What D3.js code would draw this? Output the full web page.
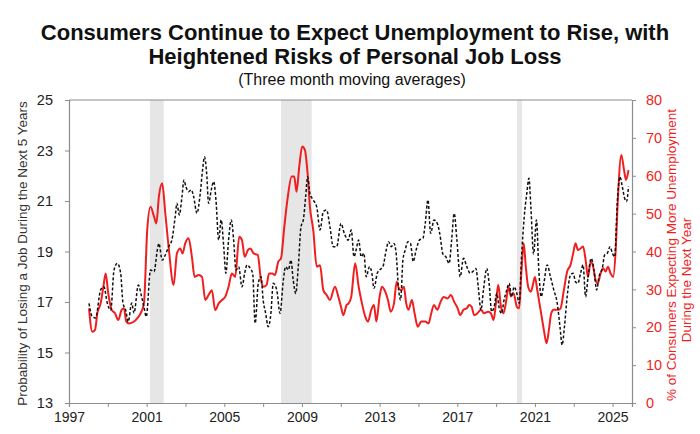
<!DOCTYPE html>
<html>
<head>
<meta charset="utf-8">
<script src="https://cdn.jsdelivr.net/npm/d3@7"></script>
<style>
    body { margin: 0; background: #fff; }
    svg { display: block; font-family: "Liberation Sans", Arial, sans-serif; }
</style>
</head>
<body>
<div id="chart"></div>
<script>
// Probability of losing a job during the next 5 years (left axis), [year, value]
const jobLossRisk = [
    [1998.03, 16.95], [1998.2, 16.42], [1998.37, 16.37], [1998.63, 17.48], [1998.8, 17.6],
    [1998.97, 16.96], [1999.15, 16.68], [1999.32, 18.27], [1999.49, 18.53], [1999.66, 18.15],
    [1999.78, 16.96], [1999.92, 16.68], [2000.05, 16.22], [2000.23, 16.96], [2000.35, 16.56],
    [2000.57, 17.67], [2000.74, 17.21], [2000.86, 16.81], [2000.98, 16.42], [2001.2, 18.27],
    [2001.38, 18.2], [2001.55, 19.06], [2001.63, 19.32], [2001.8, 18.66], [2001.96, 18.86],
    [2002.13, 19.19], [2002.3, 19.46], [2002.47, 20.38], [2002.56, 20.91], [2002.68, 20.45],
    [2002.82, 21.17], [2002.92, 21.83], [2003.02, 21.57], [2003.16, 21.37], [2003.3, 21.44],
    [2003.42, 21.17], [2003.59, 20.51], [2003.76, 21.3], [2003.88, 22.23], [2003.98, 22.75],
    [2004.09, 22.1], [2004.19, 20.91], [2004.33, 21.44], [2004.45, 21.77], [2004.57, 21.04],
    [2004.71, 19.46], [2004.84, 20.25], [2004.97, 19.19], [2005.08, 18.14], [2005.22, 19.46],
    [2005.36, 20.25], [2005.48, 19.46], [2005.6, 18.27], [2005.74, 18.4], [2005.91, 17.6],
    [2006.05, 18.14], [2006.17, 18.47], [2006.34, 18.33], [2006.46, 18.14], [2006.59, 16.16],
    [2006.75, 17.74], [2006.89, 18.0], [2007.0, 17.08], [2007.13, 16.55], [2007.26, 16.02],
    [2007.4, 16.55], [2007.52, 17.74], [2007.7, 17.48], [2007.87, 16.55], [2008.04, 17.87],
    [2008.16, 18.4], [2008.3, 18.27], [2008.43, 18.66], [2008.55, 17.87], [2008.68, 17.34],
    [2008.81, 18.4], [2008.95, 19.98], [2009.07, 20.25], [2009.19, 21.17], [2009.29, 21.96],
    [2009.41, 21.3], [2009.58, 21.04], [2009.76, 20.77], [2009.93, 19.85], [2010.1, 20.58],
    [2010.27, 20.64], [2010.44, 19.98], [2010.61, 19.19], [2010.79, 19.19], [2011.01, 20.11],
    [2011.18, 19.72], [2011.38, 19.45], [2011.54, 19.85], [2011.68, 18.79], [2011.79, 19.06],
    [2011.92, 19.46], [2012.05, 18.79], [2012.19, 18.93], [2012.31, 18.0], [2012.48, 18.4],
    [2012.6, 18.14], [2012.71, 17.54], [2012.88, 18.14], [2013.0, 18.27], [2013.17, 18.4],
    [2013.34, 19.06], [2013.46, 19.39], [2013.6, 19.19], [2013.74, 19.32], [2013.85, 18.93],
    [2013.98, 17.48], [2014.08, 17.08], [2014.2, 18.66], [2014.32, 19.06], [2014.46, 19.39],
    [2014.59, 19.32], [2014.73, 18.6], [2014.88, 19.06], [2015.06, 19.46], [2015.23, 19.52],
    [2015.35, 20.11], [2015.49, 21.04], [2015.63, 19.72], [2015.8, 20.25], [2015.97, 20.11],
    [2016.1, 19.7], [2016.26, 18.9], [2016.41, 18.79], [2016.58, 18.53], [2016.71, 19.46],
    [2016.84, 20.51], [2016.98, 19.46], [2017.15, 18.0], [2017.32, 18.73], [2017.49, 18.4],
    [2017.66, 18.14], [2017.79, 18.2], [2017.96, 18.33], [2018.08, 17.6], [2018.22, 16.68],
    [2018.35, 17.48], [2018.52, 18.33], [2018.64, 17.74], [2018.77, 16.62], [2018.9, 16.81],
    [2019.04, 17.34], [2019.16, 16.75], [2019.28, 16.55], [2019.41, 17.08], [2019.55, 17.48],
    [2019.67, 17.74], [2019.8, 17.21], [2019.93, 17.6], [2020.07, 17.34], [2020.19, 16.95],
    [2020.31, 18.79], [2020.45, 20.38], [2020.58, 21.3], [2020.69, 21.9], [2020.79, 20.77],
    [2020.93, 18.9], [2021.08, 20.25], [2021.2, 18.27], [2021.32, 17.21], [2021.46, 17.74],
    [2021.63, 18.47], [2021.8, 18.0], [2021.97, 17.48], [2022.15, 16.95], [2022.29, 16.02],
    [2022.4, 15.3], [2022.52, 16.02], [2022.66, 17.21], [2022.83, 18.07], [2022.97, 18.14],
    [2023.09, 17.8], [2023.21, 17.74], [2023.35, 18.14], [2023.48, 18.47], [2023.61, 17.21],
    [2023.74, 18.0], [2023.9, 18.73], [2024.04, 18.27], [2024.18, 17.48], [2024.3, 18.0],
    [2024.47, 18.33], [2024.59, 18.86], [2024.73, 18.93], [2024.87, 19.19], [2024.99, 18.93],
    [2025.11, 18.79], [2025.24, 20.91], [2025.38, 21.96], [2025.5, 21.57], [2025.62, 21.11],
    [2025.72, 20.98], [2025.82, 21.57]
];

// % of consumers expecting more unemployment during the next year (right axis), [year, value]
const expectMoreUnemployment = [
    [1998.03, 25.0], [1998.2, 18.8], [1998.34, 19.3], [1998.46, 23.7], [1998.63, 26.3],
    [1998.77, 30.7], [1998.89, 34.2], [1999.02, 29.0], [1999.2, 24.6], [1999.37, 23.7],
    [1999.54, 21.9], [1999.71, 24.6], [1999.83, 25.0], [1999.95, 21.5], [2000.09, 21.0],
    [2000.35, 21.5], [2000.52, 22.4], [2000.69, 23.7], [2000.86, 26.3], [2001.03, 45.7],
    [2001.2, 51.8], [2001.38, 49.2], [2001.5, 47.4], [2001.63, 54.5], [2001.8, 58.0],
    [2001.96, 50.1], [2002.13, 41.3], [2002.39, 31.2], [2002.56, 39.5], [2002.73, 40.8],
    [2002.85, 39.5], [2002.99, 42.2], [2003.16, 43.5], [2003.33, 38.6], [2003.47, 33.3],
    [2003.68, 33.8], [2003.85, 33.3], [2004.02, 27.2], [2004.19, 28.5], [2004.36, 29.8],
    [2004.53, 24.5], [2004.71, 26.3], [2004.88, 27.2], [2005.05, 28.1], [2005.22, 30.7],
    [2005.39, 34.2], [2005.56, 33.3], [2005.77, 43.9], [2005.91, 43.0], [2006.05, 38.6],
    [2006.22, 40.4], [2006.34, 40.8], [2006.51, 39.5], [2006.72, 39.1], [2006.89, 32.5],
    [2007.0, 30.7], [2007.18, 31.2], [2007.3, 34.2], [2007.47, 34.2], [2007.61, 33.8],
    [2007.78, 37.3], [2007.92, 38.2], [2008.09, 46.5], [2008.26, 54.0], [2008.47, 59.8],
    [2008.6, 59.8], [2008.72, 55.8], [2008.86, 62.4], [2009.01, 67.7], [2009.15, 66.8],
    [2009.29, 60.6], [2009.41, 51.8], [2009.58, 45.7], [2009.76, 36.0], [2009.93, 36.4],
    [2010.1, 29.8], [2010.27, 28.5], [2010.44, 27.2], [2010.7, 30.7], [2010.87, 28.1],
    [2011.01, 25.4], [2011.13, 23.2], [2011.3, 25.9], [2011.4, 26.3], [2011.54, 28.1],
    [2011.74, 36.9], [2011.92, 30.7], [2012.09, 26.3], [2012.26, 22.8], [2012.4, 21.5],
    [2012.57, 24.6], [2012.71, 25.9], [2012.83, 21.5], [2013.0, 28.1], [2013.12, 30.7],
    [2013.29, 29.4], [2013.43, 27.2], [2013.57, 24.1], [2013.74, 26.3], [2013.88, 32.0],
    [2013.99, 30.3], [2014.11, 29.8], [2014.25, 30.7], [2014.37, 26.3], [2014.49, 24.6],
    [2014.66, 27.2], [2014.8, 23.7], [2014.97, 20.1], [2015.14, 21.5], [2015.35, 21.5],
    [2015.52, 21.0], [2015.66, 23.7], [2015.8, 25.9], [2015.97, 24.6], [2016.14, 26.7],
    [2016.3, 28.0], [2016.5, 27.6], [2016.67, 28.5], [2016.84, 26.7], [2017.02, 25.0],
    [2017.15, 23.2], [2017.32, 24.6], [2017.49, 25.0], [2017.61, 25.9], [2017.74, 25.4],
    [2017.87, 23.2], [2018.04, 23.7], [2018.22, 24.6], [2018.38, 23.7], [2018.59, 24.1],
    [2018.73, 23.7], [2018.87, 21.9], [2018.99, 26.3], [2019.11, 31.2], [2019.25, 25.4],
    [2019.38, 23.7], [2019.5, 26.3], [2019.64, 30.7], [2019.76, 28.1], [2019.9, 29.0],
    [2020.07, 25.4], [2020.19, 25.0], [2020.31, 35.1], [2020.42, 42.2], [2020.53, 36.0],
    [2020.65, 30.7], [2020.79, 29.4], [2020.93, 32.0], [2021.0, 33.3], [2021.12, 29.8],
    [2021.29, 24.6], [2021.46, 19.3], [2021.6, 15.8], [2021.72, 19.3], [2021.84, 23.7],
    [2021.97, 24.6], [2022.18, 24.6], [2022.32, 25.0], [2022.49, 29.8], [2022.66, 34.7],
    [2022.83, 36.4], [2022.97, 39.5], [2023.09, 42.2], [2023.21, 40.4], [2023.35, 40.8],
    [2023.48, 41.3], [2023.61, 37.8], [2023.73, 33.3], [2023.87, 37.3], [2024.0, 36.0],
    [2024.12, 32.5], [2024.24, 31.6], [2024.38, 34.2], [2024.51, 35.6], [2024.64, 34.7],
    [2024.76, 36.0], [2024.9, 34.2], [2025.03, 33.3], [2025.16, 40.4], [2025.27, 53.6],
    [2025.45, 65.5], [2025.59, 61.5], [2025.69, 58.9], [2025.82, 61.5]
];

// Recessions, [start, end] in decimal years
const recessions = [[2001.17, 2001.88], [2007.92, 2009.5], [2020.08, 2020.33]];

const yearTicks = d3.range(1997, 2026, 2);
const yearLabels = d3.range(1997, 2026, 4);
const leftTicks = d3.range(13, 26, 2);
const rightTicks = d3.range(0, 81, 10);

const titleLines = [
    "Consumers Continue to Expect Unemployment to Rise, with",
    "Heightened Risks of Personal Job Loss"
];
const subtitle = "(Three month moving averages)";
const leftTitle = "Probability of Losing a Job During the Next 5 Years";
const rightTitle = ["% of Consumers Expecting More Unemployment", "During the Next Year"];

document.addEventListener("DOMContentLoaded", renderChart);

function renderChart() {
    const width = 700;
    const height = 434;
    const margin = { top: 100, right: 68, bottom: 31, left: 69 };
    const red = "#f01e1e";

    const svg = d3.select("#chart").append("svg")
        .attr("width", width)
        .attr("height", height);

    svg.append("rect").attr("width", width).attr("height", height).attr("fill", "#fff");

    const x = d3.scaleLinear()
        .domain([1997, 2026])
        .range([margin.left, width - margin.right]);

    const yLeft = d3.scaleLinear()
        .domain([13, 25])
        .range([height - margin.bottom, margin.top]);

    const yRight = d3.scaleLinear()
        .domain([0, 80])
        .range([height - margin.bottom, margin.top]);

    // titles
    svg.append("g")
        .selectAll("text")
        .data(titleLines)
        .join("text")
        .attr("x", width / 2 + 5)
        .attr("y", (d, i) => 40 + i * 24)
        .attr("text-anchor", "middle")
        .attr("font-size", 22)
        .attr("font-weight", 700)
        .attr("fill", "#111")
        .text((d) => d);

    svg.append("text")
        .attr("x", width / 2 + 2)
        .attr("y", 85)
        .attr("text-anchor", "middle")
        .attr("font-size", 16)
        .attr("fill", "#111")
        .text(subtitle);

    // recession bars
    svg.append("g")
        .selectAll("rect")
        .data(recessions)
        .join("rect")
        .attr("x", (d) => x(d[0]))
        .attr("y", margin.top)
        .attr("width", (d) => x(d[1]) - x(d[0]))
        .attr("height", yLeft(13) - margin.top)
        .attr("fill", "#e6e6e6");

    // axes
    const axisColor = "#8c8c8c";

    const xAxis = svg.append("g")
        .attr("transform", `translate(0, ${height - margin.bottom})`)
        .call(d3.axisBottom(x)
            .tickValues(yearTicks)
            .tickSize(4)
            .tickFormat((d) => (yearLabels.includes(d) ? d : "")));
    xAxis.selectAll("text")
        .attr("font-size", 14)
        .attr("fill", "#222")
        .attr("dy", "0.85em");

    const leftAxis = svg.append("g")
        .attr("transform", `translate(${margin.left}, 0)`)
        .call(d3.axisLeft(yLeft).tickValues(leftTicks).tickSize(4).tickPadding(12));
    leftAxis.selectAll("text")
        .attr("font-size", 14.5)
        .attr("fill", "#222");

    const rightAxis = svg.append("g")
        .attr("transform", `translate(${width - margin.right}, 0)`)
        .call(d3.axisRight(yRight).tickValues(rightTicks).tickSize(4).tickPadding(10));
    rightAxis.selectAll("text")
        .attr("font-size", 14.5)
        .attr("fill", red);

    svg.selectAll(".tick line").attr("stroke", axisColor);
    svg.selectAll(".domain").attr("stroke", axisColor).attr("stroke-width", 1.2);

    // top border of the plot box
    svg.append("line")
        .attr("x1", margin.left)
        .attr("x2", width - margin.right)
        .attr("y1", margin.top)
        .attr("y2", margin.top)
        .attr("stroke", axisColor)
        .attr("stroke-width", 1.2);

    // axis titles
    svg.append("text")
        .attr("transform", `translate(27, ${(margin.top + height - margin.bottom) / 2 + 2}) rotate(-90)`)
        .attr("text-anchor", "middle")
        .attr("font-size", 13.5)
        .attr("fill", "#333")
        .text(leftTitle);

    svg.append("g")
        .selectAll("text")
        .data(rightTitle)
        .join("text")
        .attr("transform", (d, i) => `translate(${676 + i * 15}, ${i ? 280 : 255}) rotate(-90)`)
        .attr("text-anchor", "middle")
        .attr("font-size", 13.5)
        .attr("fill", red)
        .text((d) => d);

    // series
    const redLine = d3.line()
        .x((d) => x(d[0]))
        .y((d) => yRight(d[1]))
        .curve(d3.curveMonotoneX);

    const blackLine = d3.line()
        .x((d) => x(d[0]))
        .y((d) => yLeft(d[1]))
        .curve(d3.curveMonotoneX);

    svg.append("path")
        .datum(expectMoreUnemployment)
        .attr("fill", "none")
        .attr("stroke", red)
        .attr("stroke-width", 2)
        .attr("stroke-linejoin", "round")
        .attr("d", redLine);

    svg.append("path")
        .datum(jobLossRisk)
        .attr("fill", "none")
        .attr("stroke", "#111")
        .attr("stroke-width", 1.5)
        .attr("stroke-dasharray", "3,2")
        .attr("d", blackLine);
}
</script>
</body>
</html>
